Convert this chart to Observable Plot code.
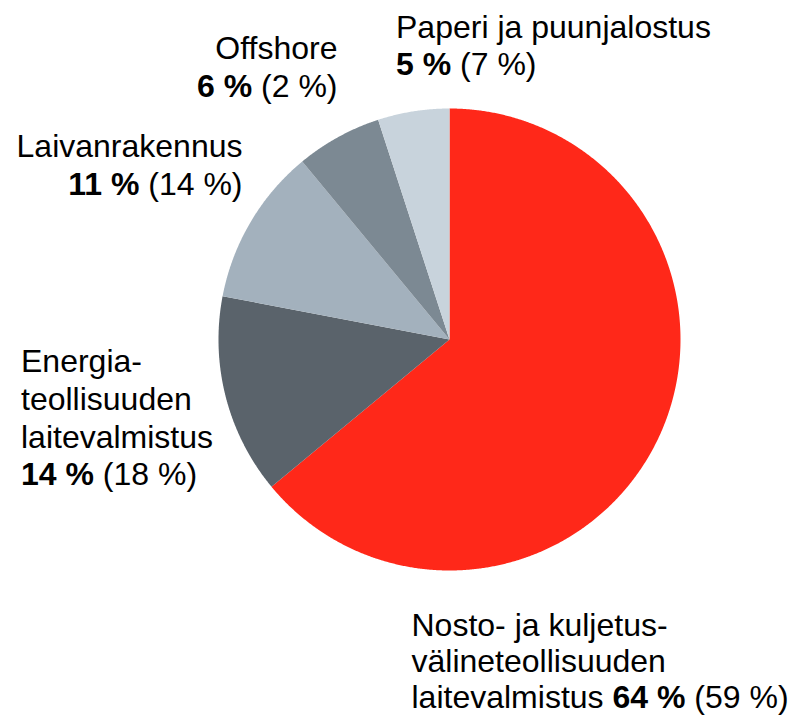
<!DOCTYPE html>
<html>
<head>
<meta charset="utf-8">
<script src="https://cdn.jsdelivr.net/npm/d3@7"></script>
<script src="https://cdn.jsdelivr.net/npm/@observablehq/plot@0.6"></script>
<style>
  html, body { margin: 0; padding: 0; background: #fff; }
  #chart svg { display: block; }
</style>
</head>
<body>
<div id="chart"></div>
<script>
// ---- data ----
const categories = [
  "Nosto- ja kuljetusvälineteollisuuden laitevalmistus",
  "Energiateollisuuden laitevalmistus",
  "Laivanrakennus",
  "Offshore",
  "Paperi ja puunjalostus"
];
const labelNames = [
  "Nosto- ja kuljetus-\nvälineteollisuuden\nlaitevalmistus ",
  "Energia-\nteollisuuden\nlaitevalmistus\n",
  "Laivanrakennus\n",
  "Offshore\n",
  "Paperi ja puunjalostus\n"
];
const shares = [64, 14, 11, 6, 5];        // current share, %
const previousShares = [59, 18, 14, 2, 7]; // previous share, %
const colors = ["#FF2819", "#5A636B", "#A3B1BD", "#7C8993", "#C8D3DC"];

// ---- layout (pie units: centre 0,0, radius 1) ----
const W = 806, H = 715;
const cx = 449, cy = 339, R = 231;
const labelLayout = [
  {x: -0.1645, y: -1.5974, anchor: "start", lh: 1.14},
  {x: -1.855,  y: -0.632, anchor: "start", lh: 1.18},
  {x: -0.8961, y: 0.6277, anchor: "end", lh: 1.18},
  {x: -0.4848, y: 1.0519, anchor: "end", lh: 1.18},
  {x: -0.2316, y: 1.1429, anchor: "start", lh: 1.18}
];

// slice outlines built from d3.pie angles
const arcs = d3.pie().sort(null).value(d => d)(shares);
const slicePts = [];
arcs.forEach((a, i) => {
  slicePts.push({cat: categories[i], x: 0, y: 0});
  const steps = Math.max(2, Math.ceil((a.endAngle - a.startAngle) / 0.005));
  for (let k = 0; k <= steps; k++) {
    const t = a.startAngle + (a.endAngle - a.startAngle) * k / steps;
    slicePts.push({cat: categories[i], x: Math.sin(t), y: Math.cos(t)});
  }
  slicePts.push({cat: categories[i], x: 0, y: 0});
});

const labels = categories.map((c, i) => ({
  cat: c,
  text: labelNames[i] + "**" + shares[i] + " %** (" + previousShares[i] + " %)",
  ...labelLayout[i]
}));

const textMarks = labels.map(d => Plot.text([d], {
  x: "x", y: "y", text: "text",
  fontSize: 32, lineHeight: d.lh, lineAnchor: "bottom", fill: "#000",
  textAnchor: d.anchor
}));

const chart = Plot.plot({
  width: W, height: H,
  margin: 0,
  style: {fontFamily: "'Liberation Sans', Arial, Helvetica, sans-serif", background: "#fff"},
  x: {domain: [-cx / R, (W - cx) / R], axis: null},
  y: {domain: [(cy - H) / R, cy / R], axis: null},
  color: {domain: categories, range: colors},
  marks: [
    Plot.line(slicePts, {x: "x", y: "y", z: "cat", fill: "cat", stroke: "none", curve: "linear"}),
    ...textMarks
  ]
});

// bold the "**...**" parts
chart.querySelectorAll("text").forEach(t => {
  const targets = t.querySelectorAll("tspan").length ? [...t.querySelectorAll("tspan")] : [t];
  targets.forEach(el => {
    const s = el.textContent;
    if (!s.includes("**")) return;
    const parts = s.split("**");
    el.textContent = "";
    parts.forEach((p, j) => {
      if (!p) return;
      const sp = document.createElementNS("http://www.w3.org/2000/svg", "tspan");
      if (j % 2 === 1) sp.setAttribute("font-weight", "bold");
      sp.textContent = p;
      el.appendChild(sp);
    });
  });
});

document.getElementById("chart").appendChild(chart);
</script>
</body>
</html>
